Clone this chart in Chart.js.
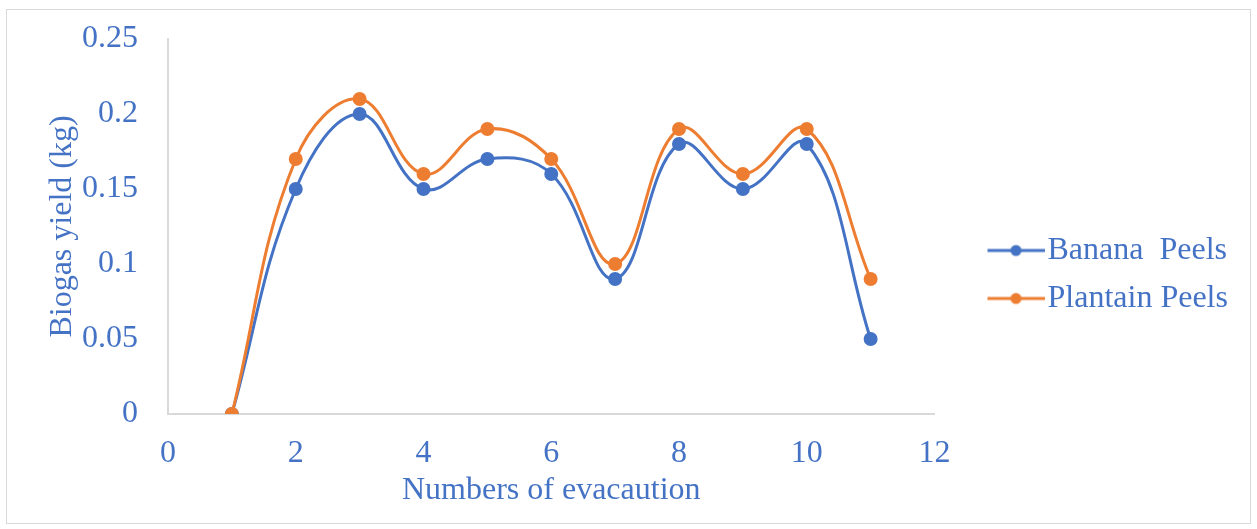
<!DOCTYPE html>
<html lang="en">
  <head>
    <meta charset="UTF-8" />
    <title>Biogas yield</title>
    <script src="https://cdn.jsdelivr.net/npm/chart.js"></script>
    <style>
      body { margin: 0; background: #fff; }
      #wrap { position: relative; width: 1257px; height: 529px; }
      #frame {
        position: absolute; left: 6px; top: 9px; width: 1245px; height: 515px;
        border: 1px solid #d9d9d9; box-sizing: border-box;
      }
      #box { position: absolute; left: 0; top: 0; width: 1257px; height: 529px; }
    </style>
  </head>
  <body>
    <div id="wrap">
      <div id="frame"></div>
      <div id="box"><canvas id="lineChart"></canvas></div>
    </div>
    <script>
      // data
      var evacuations = [1, 2, 3, 4, 5, 6, 7, 8, 9, 10, 11];
      var bananaPeels = [0, 0.15, 0.2, 0.15, 0.17, 0.16, 0.09, 0.18, 0.15, 0.18, 0.05];
      var plantainPeels = [0, 0.17, 0.21, 0.16, 0.19, 0.17, 0.1, 0.19, 0.16, 0.19, 0.09];
      var xTicks = [0, 2, 4, 6, 8, 10, 12];
      var yTicks = [0, 0.05, 0.1, 0.15, 0.2, 0.25];

      var blue = "#4472C4";
      var orange = "#ED7D31";
      var textBlue = "#4472C4";
      var fontSize = 32;
      var markerWidth = 81; // legend box width

      function points(ys) {
        return evacuations.map(function (x, i) {
          return { x: x, y: ys[i] };
        });
      }

      // legend symbol: short line with a dot, like the spreadsheet legend
      function legendMarker(color) {
        var w = markerWidth + fontSize - 6;
        var c = document.createElement("canvas");
        c.width = w;
        c.height = 14;
        var g = c.getContext("2d");
        g.strokeStyle = color;
        g.lineWidth = 3;
        g.beginPath();
        g.moveTo(w - 57, 7);
        g.lineTo(w, 7);
        g.stroke();
        g.fillStyle = color;
        g.beginPath();
        g.arc(w - 28.5, 7, 5.5, 0, Math.PI * 2);
        g.fill();
        return c;
      }

      var serif = "'Liberation Serif', serif";

      var ctx = document.getElementById("lineChart").getContext("2d");
      new Chart(ctx, {
        type: "line",
        data: {
          datasets: [
            {
              label: "Plantain Peels",
              data: points(plantainPeels),
              borderColor: orange,
              backgroundColor: orange,
              borderWidth: 3,
              pointRadius: 5.5,
              pointHoverRadius: 5.5,
              tension: 0.4,
              fill: false,
            },
            {
              label: "Banana  Peels",
              data: points(bananaPeels),
              borderColor: blue,
              backgroundColor: blue,
              borderWidth: 3,
              pointRadius: 5.5,
              pointHoverRadius: 5.5,
              tension: 0.4,
              fill: false,
            },
          ],
        },
        options: {
          responsive: true,
          maintainAspectRatio: false,
          animation: false,
          layout: { padding: { top: 39, left: 39, right: 24, bottom: 19 } },
          plugins: {
            tooltip: { enabled: false },
            legend: {
              position: "right",
              labels: {
                usePointStyle: true,
                pointStyleWidth: markerWidth,
                padding: 16,
                color: textBlue,
                font: { family: serif, size: fontSize },
                generateLabels: function (chart) {
                  var sets = chart.data.datasets;
                  return [1, 0].map(function (i) {
                    return {
                      text: sets[i].label,
                      fontColor: textBlue,
                      pointStyle: legendMarker(sets[i].borderColor),
                      fillStyle: sets[i].borderColor,
                      strokeStyle: sets[i].borderColor,
                      lineWidth: 0,
                      hidden: false,
                      datasetIndex: i,
                    };
                  });
                },
              },
            },
          },
          scales: {
            x: {
              type: "linear",
              min: xTicks[0],
              max: xTicks[xTicks.length - 1],
              afterBuildTicks: function (scale) {
                scale.ticks = xTicks.map(function (v) { return { value: v }; });
              },
              afterFit: function (scale) {
                scale.height = 96;
                scale.paddingLeft = 0;
                scale.paddingRight = 0;
              },
              grid: { display: false, drawTicks: false },
              border: { display: true, color: "#d9d9d9", width: 2 },
              ticks: {
                padding: 20,
                color: textBlue,
                font: { family: serif, size: fontSize },
              },
              title: {
                display: true,
                text: "Numbers of evacaution",
                color: textBlue,
                padding: { top: 4, bottom: 0 },
                font: { family: serif, size: fontSize },
              },
            },
            y: {
              min: yTicks[0],
              max: yTicks[yTicks.length - 1],
              afterBuildTicks: function (scale) {
                scale.ticks = yTicks.map(function (v) { return { value: v }; });
              },
              afterFit: function (scale) {
                scale.width = 129;
                scale.paddingTop = 0;
                scale.paddingBottom = 0;
              },
              grid: { display: false, drawTicks: false },
              border: { display: true, color: "#d9d9d9", width: 2 },
              ticks: {
                padding: 30,
                color: textBlue,
                font: { family: serif, size: fontSize },
                callback: function (v) {
                  return String(Number(v.toFixed(2)));
                },
              },
              title: {
                display: true,
                text: "Biogas yield (kg)",
                color: textBlue,
                padding: { top: 4, bottom: 4 },
                font: { family: serif, size: fontSize },
              },
            },
          },
        },
      });
    </script>
  </body>
</html>
